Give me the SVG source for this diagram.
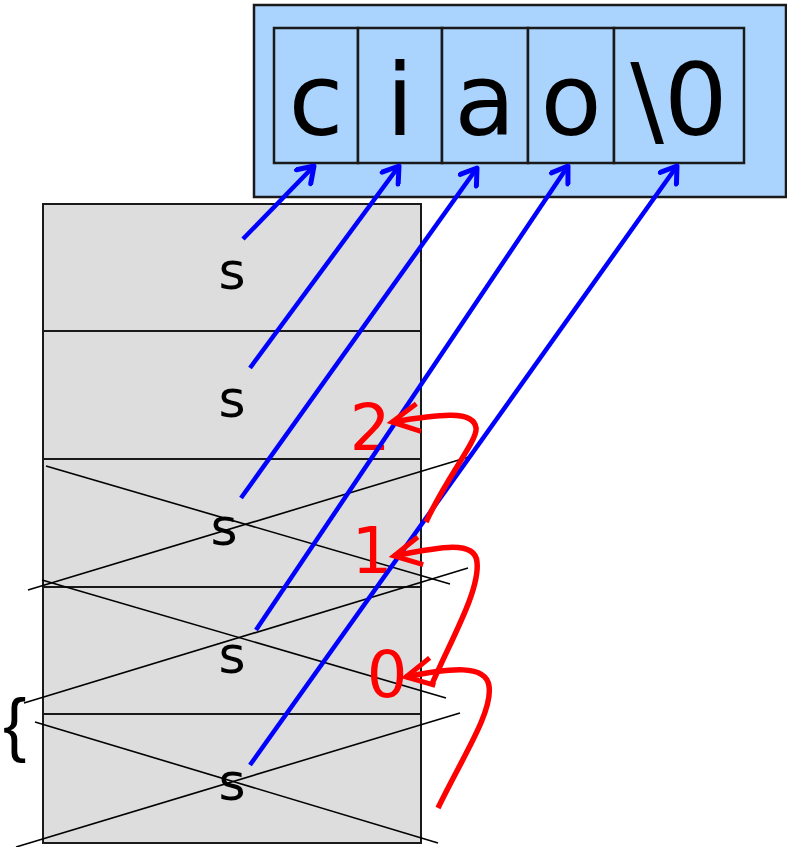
<svg xmlns="http://www.w3.org/2000/svg" width="787" height="847" viewBox="0 0 787 847">
<style>
.big{font-family:"DejaVu Sans",sans-serif;font-size:100px;fill:#000;text-anchor:middle}
.s{font-family:"DejaVu Sans",sans-serif;font-size:52px;fill:#000;text-anchor:middle}
.num{font-family:"DejaVu Sans",sans-serif;font-size:64px;fill:#ff0000;text-anchor:middle}
.cell{fill:#aad4fe;stroke:#1a1a1a;stroke-width:2.5}
.slot{fill:#dddddd;stroke:#1a1a1a;stroke-width:2}
.cross{stroke:#000;stroke-width:1.6;fill:none}
.ptr{stroke:#0000ff;stroke-width:4.5;fill:none;marker-end:url(#ab)}
.ret{stroke:#ff0000;stroke-width:5.5;fill:none;marker-end:url(#ar)}
</style>
<defs>
<marker id="ab" markerUnits="userSpaceOnUse" viewBox="-20 -12 24 24" markerWidth="24" markerHeight="24" refX="0" refY="0" orient="auto">
<path d="M-15,-10 L0,0 L-15,10" fill="none" stroke="#0000ff" stroke-width="5" stroke-linecap="round" stroke-linejoin="round"/>
</marker>
<marker id="ar" markerUnits="userSpaceOnUse" viewBox="-30 -18 36 36" markerWidth="36" markerHeight="36" refX="0" refY="0" orient="auto">
<path d="M-27,-14 L0,0 L-27,14" fill="none" stroke="#ff0000" stroke-width="5" stroke-linejoin="miter"/>
</marker>
</defs>
<g id="string">
<rect x="254" y="5" width="532" height="192" class="cell"/>
<g id="cell-c"><rect x="274" y="28" width="84" height="135" class="cell"/><text x="316" y="135" class="big">c</text></g>
<g id="cell-i"><rect x="358" y="28" width="84" height="135" class="cell"/><text x="400" y="135" class="big">i</text></g>
<g id="cell-a"><rect x="442" y="28" width="86" height="135" class="cell"/><text x="485" y="135" class="big">a</text></g>
<g id="cell-o"><rect x="528" y="28" width="86" height="135" class="cell"/><text x="571" y="135" class="big">o</text></g>
<g id="cell-nul"><rect x="614" y="28" width="130" height="135" class="cell"/><text x="679" y="135" class="big">\0</text></g>
</g>
<g id="stack">
<g id="frame1"><rect x="43" y="204" width="378" height="127" class="slot"/><text x="232" y="289" class="s">s</text></g>
<g id="frame2"><rect x="43" y="331" width="378" height="128" class="slot"/><text x="232" y="417" class="s">s</text></g>
<g id="frame3"><rect x="43" y="459" width="378" height="128" class="slot"/><text x="224" y="545" class="s">s</text></g>
<g id="frame4"><rect x="43" y="587" width="378" height="127" class="slot"/><text x="232" y="673" class="s">s</text></g>
<g id="frame5"><rect x="43" y="714" width="378" height="129" class="slot"/><text x="232" y="800" class="s">s</text></g>
</g>
<g id="crosses">
<line x1="46" y1="466" x2="450" y2="584" class="cross"/>
<line x1="28" y1="590" x2="472" y2="456" class="cross"/>
<line x1="42" y1="580" x2="446" y2="698" class="cross"/>
<line x1="24" y1="703" x2="468" y2="568" class="cross"/>
<line x1="35" y1="722" x2="438" y2="843" class="cross"/>
<line x1="16" y1="847" x2="460" y2="713" class="cross"/>
</g>
<text x="3" y="748" font-family="Liberation Sans,sans-serif" font-size="70">{</text>
<g id="labels">
<text x="370" y="450" class="num">2</text>
<text x="372" y="573" class="num">1</text>
<text x="387" y="697" class="num">0</text>
</g>
<g id="connectors">
<line x1="243" y1="239" x2="314" y2="166" class="ptr"/>
<line x1="250" y1="368" x2="399" y2="166" class="ptr"/>
<line x1="241" y1="498" x2="477" y2="168" class="ptr"/>
<line x1="256" y1="630" x2="568" y2="166" class="ptr"/>
<line x1="250" y1="765" x2="677" y2="166" class="ptr"/>
<path d="M426,522 C448,475 478,440 476,428 C474,410 440,414 392,422" class="ret"/>
<path d="M432,684 C452,638 480,590 477,562 C475,540 440,547 394,556" class="ret"/>
<path d="M438,808 C462,758 493,712 489,686 C486,664 450,668 406,677" class="ret"/>
</g>
</svg>
